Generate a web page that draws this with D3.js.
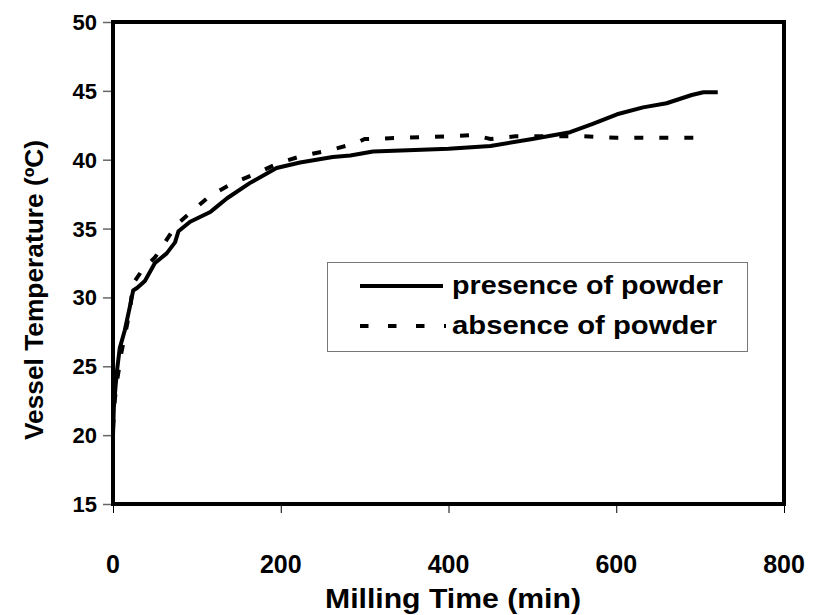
<!DOCTYPE html>
<html>
<head>
<meta charset="utf-8">
<script src="https://cdn.jsdelivr.net/npm/d3@7"></script>
<style>
  body { margin: 0; background: #fff; }
  text { font-family: "Liberation Sans", Arial, sans-serif; font-weight: bold; fill: #000; }
</style>
</head>
<body>
<svg id="chart"></svg>
<script>
// presence of powder (solid)
const presenceTime = [0, 1, 3, 5, 8, 14, 20, 24, 29, 38, 50, 64, 74, 78, 92, 116, 122, 136, 163, 195, 223, 262, 283, 310, 360, 400, 450, 500, 545, 572, 601, 632, 660, 690, 704, 721];
const presenceTemp = [20, 22, 23.5, 24.8, 26.3, 27.6, 29.3, 30.5, 30.7, 31.2, 32.5, 33.2, 34, 34.8, 35.5, 36.2, 36.5, 37.2, 38.3, 39.4, 39.8, 40.2, 40.3, 40.6, 40.7, 40.8, 41.0, 41.5, 42.0, 42.6, 43.3, 43.8, 44.1, 44.7, 44.9, 44.9];

// absence of powder (dashed)
const absenceTime = [0, 2, 5, 10, 15, 20, 24, 35, 50, 76, 95, 116, 143, 167, 199, 227, 259, 290, 300, 350, 400, 430, 450, 480, 520, 560, 600, 650, 700];
const absenceTemp = [20.5, 22.5, 24, 26, 27.5, 29, 31, 32, 32.9, 35.3, 36.3, 37.4, 38.3, 38.9, 39.8, 40.3, 40.7, 41.2, 41.5, 41.6, 41.7, 41.8, 41.5, 41.7, 41.7, 41.7, 41.6, 41.6, 41.6];

const xTicks = [0, 200, 400, 600, 800];
const yTicks = [15, 20, 25, 30, 35, 40, 45, 50];
const legendLabels = ["presence of powder", "absence of powder"];

const W = 814, H = 615;
const svg = d3.select("#chart").attr("width", W).attr("height", H);

const x = d3.scaleLinear().domain([0, 800]).range([113, 784]);
const y = d3.scaleLinear().domain([15, 50]).range([504, 22]);

// ticks
svg.append("g")
    .attr("transform", "translate(0," + y(15) + ")")
    .call(d3.axisBottom(x).tickValues(xTicks).tickSize(9).tickFormat(""))
    .call(g => g.select(".domain").remove())
    .selectAll(".tick line").attr("stroke", "#000").attr("stroke-width", 1);

svg.append("g")
    .attr("transform", "translate(" + x(0) + ",0)")
    .call(d3.axisLeft(y).tickValues(yTicks).tickSize(10).tickFormat(""))
    .call(g => g.select(".domain").remove())
    .selectAll(".tick line").attr("stroke", "#666").attr("stroke-width", 1.5);

// tick labels
svg.selectAll(".xlab").data(xTicks).enter().append("text")
    .attr("class", "xlab")
    .attr("x", d => x(d))
    .attr("y", 573)
    .attr("text-anchor", "middle")
    .style("font-size", "25px")
    .text(d => d);

svg.selectAll(".ylab").data(yTicks).enter().append("text")
    .attr("class", "ylab")
    .attr("x", 97)
    .attr("y", d => y(d) + 8)
    .attr("text-anchor", "end")
    .style("font-size", "22px")
    .text(d => d);

// frame
svg.append("rect")
    .attr("x", x(0)).attr("y", y(50))
    .attr("width", x(800) - x(0)).attr("height", y(15) - y(50))
    .attr("fill", "none").attr("stroke", "#000").attr("stroke-width", 4);

// titles
svg.append("text")
    .attr("x", 453).attr("y", 608)
    .attr("text-anchor", "middle")
    .attr("textLength", 256)
    .attr("lengthAdjust", "spacingAndGlyphs")
    .style("font-size", "27px")
    .text("Milling Time (min)");

svg.append("text")
    .attr("transform", "translate(43,290) rotate(-90)")
    .attr("text-anchor", "middle")
    .attr("textLength", 300)
    .attr("lengthAdjust", "spacingAndGlyphs")
    .style("font-size", "26px")
    .text("Vessel Temperature (ºC)");

// lines
const line = d3.line().x(d => x(d[0])).y(d => y(d[1]));

svg.append("path")
    .datum(absenceTime.map((t, i) => [t, absenceTemp[i]]))
    .attr("d", line)
    .attr("fill", "none").attr("stroke", "#000").attr("stroke-width", 4)
    .attr("stroke-dasharray", "9,16");

svg.append("path")
    .datum(presenceTime.map((t, i) => [t, presenceTemp[i]]))
    .attr("d", line)
    .attr("fill", "none").attr("stroke", "#000").attr("stroke-width", 4)
    .attr("stroke-linejoin", "round");

// legend
const lg = svg.append("g");
lg.append("rect")
    .attr("x", 327.5).attr("y", 262.5).attr("width", 420).attr("height", 89)
    .attr("fill", "#fff").attr("stroke", "#777").attr("stroke-width", 1);

lg.append("line")
    .attr("x1", 360).attr("x2", 443).attr("y1", 286).attr("y2", 286)
    .attr("stroke", "#000").attr("stroke-width", 4);
lg.append("line")
    .attr("x1", 360).attr("x2", 446).attr("y1", 326).attr("y2", 326)
    .attr("stroke", "#000").attr("stroke-width", 4)
    .attr("stroke-dasharray", "8.5,19.5");

lg.selectAll(".leg").data(legendLabels).enter().append("text")
    .attr("x", 452)
    .attr("y", (d, i) => 294 + i * 40)
    .attr("textLength", (d, i) => i === 0 ? 271 : 265)
    .attr("lengthAdjust", "spacingAndGlyphs")
    .style("font-size", "26px")
    .text(d => d);
</script>
</body>
</html>
